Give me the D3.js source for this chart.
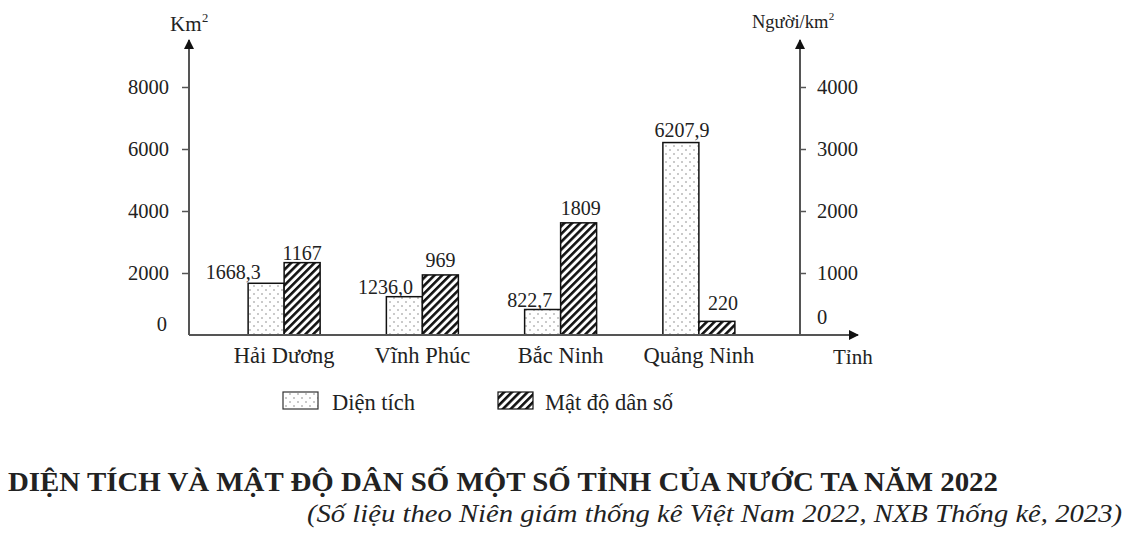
<!DOCTYPE html>
<html><head><meta charset="utf-8">
<script src="https://cdn.jsdelivr.net/npm/d3@7"></script>
<style>
html,body{margin:0;padding:0;background:#fff;}
svg text{font-family:"Liberation Serif","Times New Roman",serif;fill:#222;}
</style></head>
<body><svg id="c" width="1133" height="542"></svg>
<script>
// ---- data ----
const provinces = ["Hải Dương", "Vĩnh Phúc", "Bắc Ninh", "Quảng Ninh"];
const area = [1668.3, 1236.0, 822.7, 6207.9];          // km²
const density = [1167, 969, 1809, 220];                 // người/km²
const areaLabels = ["1668,3", "1236,0", "822,7", "6207,9"];
const densityLabels = ["1167", "969", "1809", "220"];
const leftTicks = [0, 2000, 4000, 6000, 8000];
const rightTicks = [0, 1000, 2000, 3000, 4000];
const seriesNames = ["Diện tích", "Mật độ dân số"];
const title = "DIỆN TÍCH VÀ MẬT ĐỘ DÂN SỐ MỘT SỐ TỈNH CỦA NƯỚC TA NĂM 2022";
const source = "(Số liệu theo Niên giám thống kê Việt Nam 2022, NXB Thống kê, 2023)";

// ---- layout (not data) ----
const areaNudge = [[-33, -4], [-19, -3], [-13, -2], [1, -6]];
const densNudge = [[0, -3], [0, -8], [2, -8], [6, -11]];

const svg = d3.select("#c");
const defs = svg.append("defs");
const dots = defs.append("pattern").attr("id", "dots").attr("patternUnits", "userSpaceOnUse")
  .attr("width", 8).attr("height", 8);
dots.append("rect").attr("width", 8).attr("height", 8).attr("fill", "#fff");
dots.append("circle").attr("cx", 2).attr("cy", 2).attr("r", 0.8).attr("fill", "#888");
dots.append("circle").attr("cx", 6).attr("cy", 6).attr("r", 0.8).attr("fill", "#888");
const hatch = defs.append("pattern").attr("id", "hatch").attr("patternUnits", "userSpaceOnUse")
  .attr("width", 5.5).attr("height", 5.5).attr("patternTransform", "rotate(45)");
hatch.append("rect").attr("width", 5.5).attr("height", 5.5).attr("fill", "#fff");
hatch.append("rect").attr("width", 2.6).attr("height", 5.5).attr("fill", "#111");
const arrow = defs.append("marker").attr("id", "arr").attr("viewBox", "0 0 10 10")
  .attr("refX", 9).attr("refY", 5).attr("markerWidth", 5).attr("markerHeight", 5)
  .attr("markerUnits", "strokeWidth").attr("orient", "auto");
arrow.append("path").attr("d", "M0,0 L10,5 L0,10 z").attr("fill", "#111");

const x0 = 189, xR = 800, yBase = 335, yTop = 87;
const x = d3.scaleBand().domain(provinces).range([215, 768]).padding(0);
const yL = d3.scaleLinear().domain([0, 8000]).range([yBase, yTop]);
const yR = d3.scaleLinear().domain([0, 4000]).range([yBase, yTop]);
const bw = 36;

// bars
const g = svg.append("g");
provinces.forEach((p, i) => {
  const cx = x(p) + x.bandwidth() / 2;
  g.append("rect").attr("x", cx - bw).attr("y", yL(area[i])).attr("width", bw)
    .attr("height", yBase - yL(area[i])).attr("fill", "url(#dots)").attr("stroke", "#111").attr("stroke-width", 1.5);
  g.append("rect").attr("x", cx).attr("y", yR(density[i])).attr("width", bw)
    .attr("height", yBase - yR(density[i])).attr("fill", "url(#hatch)").attr("stroke", "#111").attr("stroke-width", 1.5);
  g.append("text").attr("x", cx - bw / 2 + areaNudge[i][0]).attr("y", yL(area[i]) + areaNudge[i][1])
    .attr("text-anchor", "middle").attr("font-size", 20).text(areaLabels[i]);
  g.append("text").attr("x", cx + bw / 2 + densNudge[i][0]).attr("y", yR(density[i]) + densNudge[i][1])
    .attr("text-anchor", "middle").attr("font-size", 20).text(densityLabels[i]);
});

// axes
const axL = svg.append("g").attr("transform", `translate(${x0},0)`)
  .call(d3.axisLeft(yL).tickValues(leftTicks).tickSize(7).tickPadding(13).tickFormat(d3.format("d")));
const axR = svg.append("g").attr("transform", `translate(${xR},0)`)
  .call(d3.axisRight(yR).tickValues(rightTicks).tickSize(6).tickPadding(11).tickFormat(d3.format("d")));
[axL, axR].forEach(a => {
  a.select(".domain").remove();
  a.selectAll("line").attr("stroke", "#555").attr("stroke-width", 1.5);
  a.selectAll("text").attr("font-size", 20.5).attr("font-family", "Liberation Serif").attr("fill", "#222");
  a.selectAll(".tick").filter(d => d === 0).select("line").remove();
});
axL.selectAll(".tick").filter(d => d === 0).select("text").attr("dy", "-0.22em").attr("x", -22);
axR.selectAll(".tick").filter(d => d === 0).select("text").attr("dy", "-0.55em");

svg.append("line").attr("x1", x0).attr("y1", yBase).attr("x2", x0).attr("y2", 40)
  .attr("stroke", "#555").attr("stroke-width", 2).attr("marker-end", "url(#arr)");
svg.append("line").attr("x1", xR).attr("y1", yBase).attr("x2", xR).attr("y2", 40)
  .attr("stroke", "#555").attr("stroke-width", 2).attr("marker-end", "url(#arr)");
svg.append("line").attr("x1", x0).attr("y1", yBase).attr("x2", 858).attr("y2", yBase)
  .attr("stroke", "#555").attr("stroke-width", 2).attr("marker-end", "url(#arr)");

// units (superscripts as separate texts)
function unit(xp, yp, size, main) {
  const t = svg.append("text").attr("x", xp).attr("y", yp).attr("font-size", size).attr("fill", "#111").text(main);
  const w = t.node().getComputedTextLength();
  svg.append("text").attr("x", xp + w + 0.5).attr("y", yp - size * 0.45).attr("font-size", size * 0.6)
    .attr("fill", "#111").text("2");
}
unit(170, 31, 21, "Km");
unit(752, 28, 18.5, "Người/km");
svg.append("text").attr("x", 833).attr("y", 364).attr("font-size", 21).text("Tỉnh");

// category labels
svg.append("g").selectAll("text").data(provinces).join("text")
  .attr("x", d => x(d) + x.bandwidth() / 2).attr("y", 363).attr("text-anchor", "middle")
  .attr("font-size", 22.5).text(d => d);

// legend
const lg = svg.append("g");
lg.append("rect").attr("x", 283).attr("y", 392).attr("width", 35).attr("height", 17)
  .attr("fill", "url(#dots)").attr("stroke", "#333").attr("stroke-width", 1.2);
lg.append("text").attr("x", 332).attr("y", 410).attr("font-size", 22.5).text(seriesNames[0]);
lg.append("rect").attr("x", 498).attr("y", 392).attr("width", 35).attr("height", 17)
  .attr("fill", "url(#hatch)").attr("stroke", "#111").attr("stroke-width", 1.2);
lg.append("text").attr("x", 545).attr("y", 410).attr("font-size", 22.5).text(seriesNames[1]);

// title & source
svg.append("text").attr("x", 8).attr("y", 491).attr("font-size", 28).attr("font-weight", "bold")
  .attr("fill", "#111").attr("textLength", 990).attr("lengthAdjust", "spacingAndGlyphs").text(title);
svg.append("text").attr("x", 307).attr("y", 522).attr("font-size", 26).attr("font-style", "italic")
  .attr("textLength", 815).attr("lengthAdjust", "spacingAndGlyphs").text(source);
</script></body></html>
